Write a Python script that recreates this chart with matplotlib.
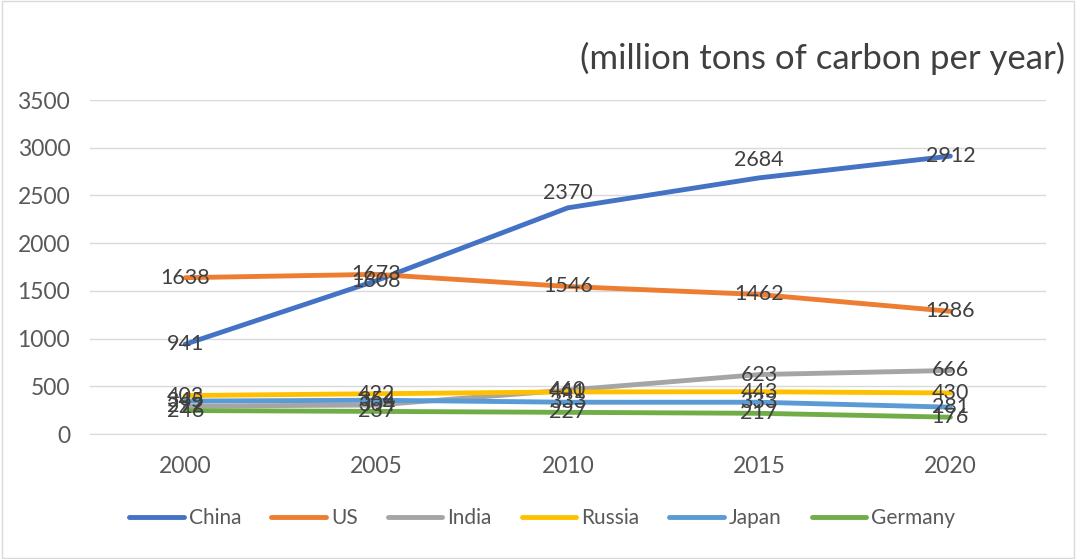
import matplotlib.pyplot as plt
from matplotlib.patches import Rectangle

# Annual carbon emissions by country
years = ["2000", "2005", "2010", "2015", "2020"]
countries = ["China", "US", "India", "Russia", "Japan", "Germany"]
china = [941, 1608, 2370, 2684, 2912]
us = [1638, 1673, 1546, 1462, 1286]
india = [292, 304, 460, 623, 666]
russia = [403, 422, 441, 443, 430]
japan = [345, 354, 333, 333, 281]
germany = [246, 237, 227, 217, 176]

series = [china, us, india, russia, japan, germany]
colors = ["#4472C4", "#ED7D31", "#A5A5A5", "#FFC000", "#5B9BD5", "#70AD47"]

plt.rcParams['font.family'] = ['Lato', 'DejaVu Sans']

fig = plt.figure(figsize=(10.76, 5.59), dpi=100)
ax = fig.add_axes([0.0833, 0.2236, 0.8888, 0.5975])

x = list(range(len(years)))
for name, vals, c in zip(countries, series, colors):
    ax.plot(x, vals, color=c, linewidth=3.5, label=name, solid_capstyle='round')

# data labels, centred on the points (two China labels sit above the line)
for name, vals in zip(countries, series):
    for i, v in enumerate(vals):
        dy = 0
        if name == "China" and i in (2, 3):
            dy = {2: 11, 3: 13}[i]
        ax.annotate(str(v), (i, v), xytext=(0, dy), textcoords='offset points',
                    ha='center', va='center', fontsize=15.5, color='#404040')

ax.set_xlim(-0.5, 4.5)
ax.set_ylim(0, 3500)
ax.set_yticks(range(0, 3501, 500))
ax.set_xticks(x)
ax.set_xticklabels(years)
ax.tick_params(axis='both', length=0, labelsize=16.5, labelcolor='#595959')
ax.tick_params(axis='x', pad=16)
ax.tick_params(axis='y', pad=14)
ax.grid(axis='y', color='#D9D9D9', linewidth=1)
ax.set_axisbelow(True)
for s in ['top', 'right', 'left']:
    ax.spines[s].set_visible(False)
ax.spines['bottom'].set_color('#D9D9D9')

fig.text(0.990, 0.896, "(million tons of carbon per year)", ha='right', va='center',
         fontsize=25, color='#404040')

fig.legend(loc='center', bbox_to_anchor=(0.504, 0.073), ncol=6, frameon=False,
           fontsize=15, handlelength=2.6, handletextpad=0.25, columnspacing=1.45,
           labelcolor='#595959')

fig.patches.append(Rectangle((0.002, 0.002), 0.996, 0.996, transform=fig.transFigure,
                             fill=False, edgecolor='#D9D9D9', linewidth=1))

fig.savefig("out.png", dpi=100)
